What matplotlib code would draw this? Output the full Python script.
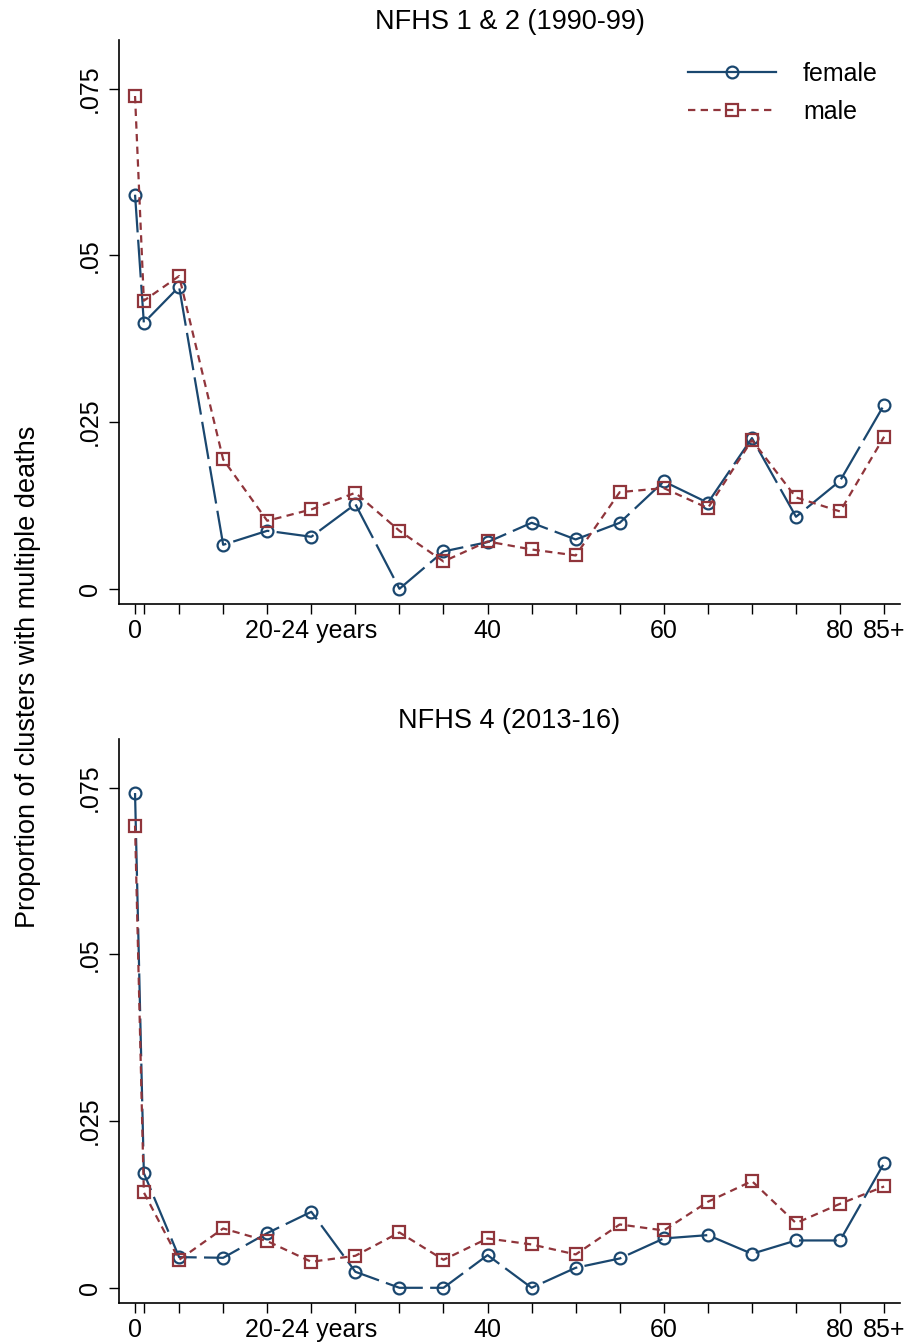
import matplotlib
matplotlib.use("Agg")
import matplotlib.pyplot as plt
from matplotlib.lines import Line2D

plt.rcParams['font.family'] = ['Liberation Sans', 'DejaVu Sans']

# Age groups (start of each band); 85 stands for 85+
ages = [0, 1, 5, 10, 15, 20, 25, 30, 35, 40, 45, 50, 55, 60, 65, 70, 75, 80, 85]

# NFHS 1 & 2 (1990-99)
female_nfhs12 = [0.0591, 0.0399, 0.0453, 0.0066, 0.0087, 0.0078, 0.0127, 0.0000,
                 0.0056, 0.0070, 0.0099, 0.0074, 0.0099, 0.0161, 0.0129, 0.0226,
                 0.0108, 0.0162, 0.0276]
male_nfhs12 = [0.0739, 0.0432, 0.0469, 0.0194, 0.0102, 0.0119, 0.0144, 0.0087,
               0.0041, 0.0071, 0.0059, 0.0050, 0.0145, 0.0151, 0.0121, 0.0223,
               0.0137, 0.0116, 0.0228]

# NFHS 4 (2013-16)
female_nfhs4 = [0.0742, 0.0172, 0.0046, 0.0045, 0.0082, 0.0114, 0.0024, 0.0000,
                0.0000, 0.0049, 0.0000, 0.0030, 0.0044, 0.0074, 0.0079, 0.0051,
                0.0071, 0.0071, 0.0187]
male_nfhs4 = [0.0693, 0.0143, 0.0042, 0.0089, 0.0070, 0.0039, 0.0048, 0.0083,
              0.0042, 0.0074, 0.0065, 0.0050, 0.0095, 0.0086, 0.0129, 0.0160,
              0.0097, 0.0126, 0.0152]

panel_titles = ["NFHS 1 & 2 (1990-99)", "NFHS 4 (2013-16)"]
xtick_labeled = [0, 20, 40, 60, 80, 85]
xtick_text = ["0", "20-24 years", "40", "60", "80", "85+"]
ytick_vals = [0, 0.025, 0.05, 0.075]
ytick_text = ["0", ".025", ".05", ".075"]
ylabel = "Proportion of clusters with multiple deaths"

NAVY = "#1a476f"
MAROON = "#90353b"
LW = 1.6
MS = 8.5
MEW = 1.6

W, H = 910, 1344
fig = plt.figure(figsize=(W / 100, H / 100), dpi=100)


def px_axes(left, top, right, bottom):
    return fig.add_axes([left / W, 1 - bottom / H, (right - left) / W, (bottom - top) / H])


panels = [
    (px_axes(119, 40, 900, 604), female_nfhs12, male_nfhs12, panel_titles[0]),
    (px_axes(119, 739, 900, 1303), female_nfhs4, male_nfhs4, panel_titles[1]),
]

for i, (ax, fem, mal, title) in enumerate(panels):
    ax.plot(ages, fem, color=NAVY, lw=LW, dashes=(17, 3.3),
            marker='o', ms=MS, mfc='none', mec=NAVY, mew=MEW)
    ax.plot(ages, mal, color=MAROON, lw=LW, dashes=(3.3, 2.4),
            marker='s', ms=MS, mfc='none', mec=MAROON, mew=MEW)

    ax.set_xlim(-1.82, 86.8)
    ax.set_ylim(-0.00228, 0.0823)

    for s in ('top', 'right'):
        ax.spines[s].set_visible(False)
    for s in ('left', 'bottom'):
        ax.spines[s].set_linewidth(1.2)

    ax.set_xticks(ages, minor=True)
    ax.set_xticks(xtick_labeled)
    ax.set_xticklabels(xtick_text, fontsize=18)
    ax.tick_params(axis='x', which='both', length=7.5, width=1.0, direction='out', pad=3)

    ax.set_yticks(ytick_vals)
    ax.set_yticklabels(ytick_text, fontsize=18, rotation=90, va='center')
    ax.tick_params(axis='y', length=7.5, width=1.0, direction='out', pad=5)

    ax.set_title(title, fontsize=19.5, pad=8)

    if i == 0:
        handles = [
            Line2D([], [], color=NAVY, lw=LW, marker='o', ms=MS, mfc='none',
                   mec=NAVY, mew=MEW),
            Line2D([], [], color=MAROON, lw=LW, dashes=(3.3, 2.4), marker='s',
                   ms=MS, mfc='none', mec=MAROON, mew=MEW),
        ]
        ax.legend(handles, ["female", "male"], loc='upper left',
                  bbox_to_anchor=((688 - 119) / 781, (604 - 62) / 564),
                  frameon=False, fontsize=18, handlelength=3.5,
                  handletextpad=1.1, labelspacing=0.55, borderpad=0,
                  borderaxespad=0)

fig.text(28 / W, 1 - 677 / H, ylabel, rotation=90, ha='center', va='center',
         fontsize=19.5)

fig.savefig("out.png", dpi=100, facecolor='white')
